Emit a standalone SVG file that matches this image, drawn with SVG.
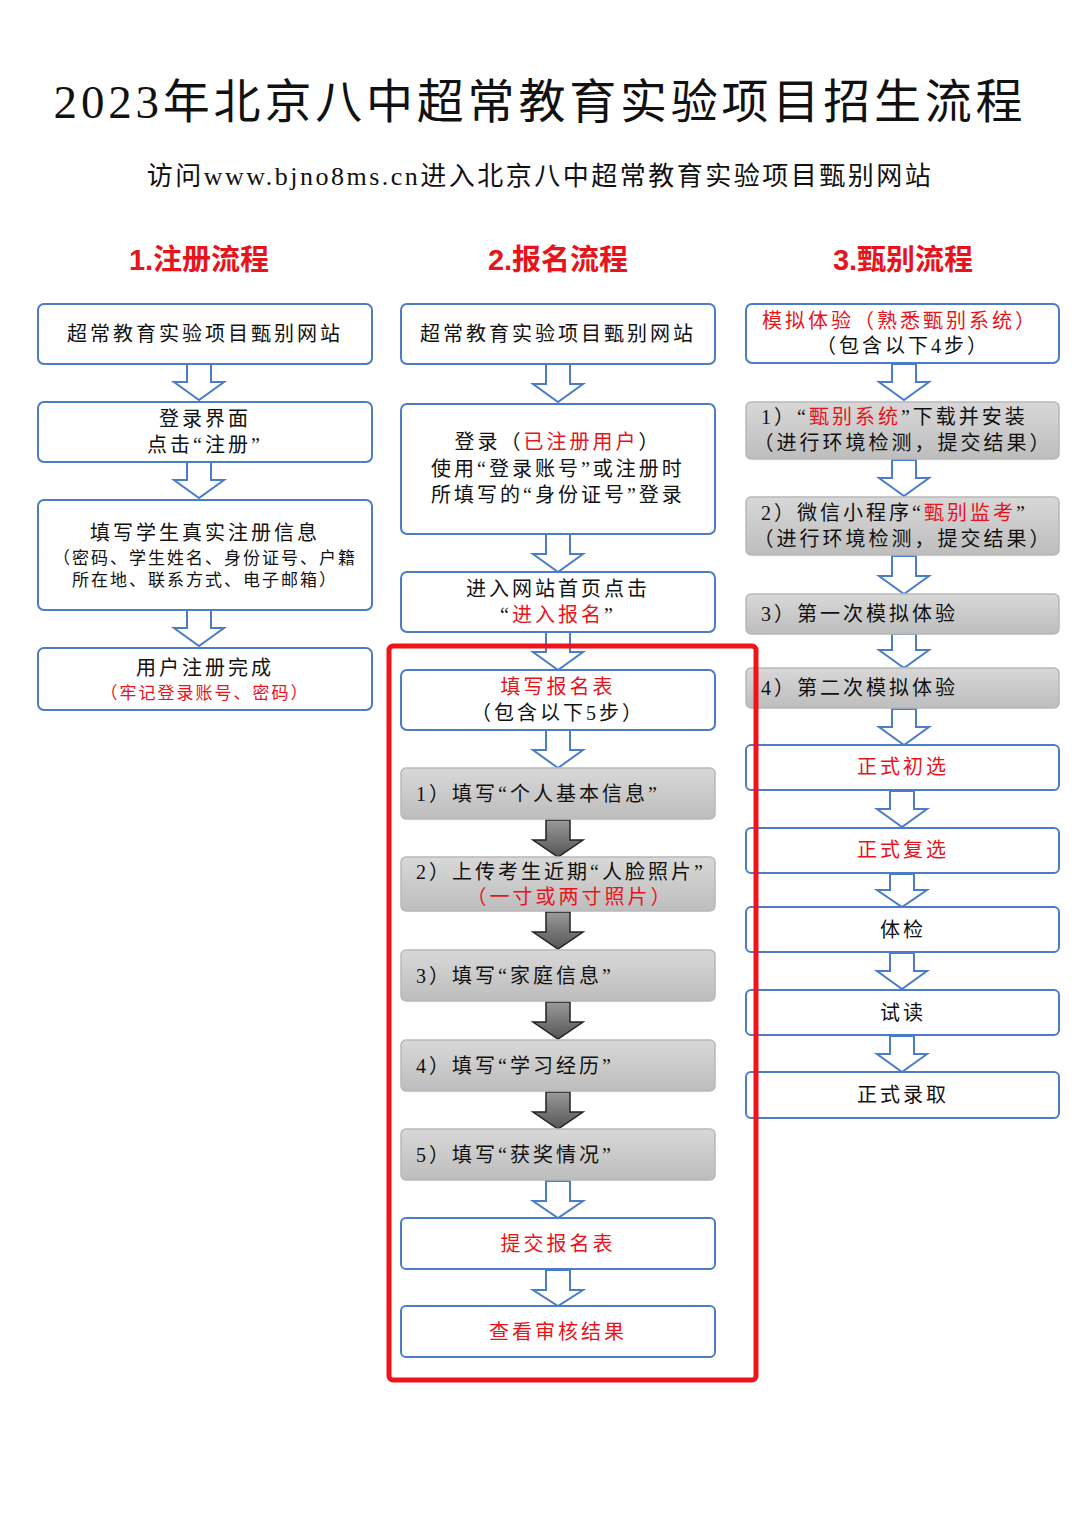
<svg xmlns="http://www.w3.org/2000/svg" width="1080" height="1527" viewBox="0 0 1080 1527">
<defs>
<style>
text{font-family:"Liberation Serif","Noto Sans CJK SC",serif;text-anchor:middle;fill:#111}
.r{fill:#e8141b}
.b{fill:#fff;stroke:#4a7cc8;stroke-width:2}
.g{fill:url(#gg);stroke:#b8b8b8;stroke-width:1.5}
.a{fill:#fff;stroke:#4a7cc8;stroke-width:2}
.d{fill:url(#dg);stroke:#222;stroke-width:1.5}
.t{font-size:20px;letter-spacing:3px}
.s{font-size:17px;letter-spacing:2px}
.l{text-anchor:start}
.h{font-family:"Liberation Sans","Noto Sans CJK SC",sans-serif;font-weight:bold;font-size:29px;fill:#e8141b}
</style>
<linearGradient id="gg" x1="0" y1="0" x2="0" y2="1"><stop offset="0" stop-color="#d8d8d8"/><stop offset="1" stop-color="#bdbdbd"/></linearGradient>
<linearGradient id="dg" x1="0" y1="0" x2="0" y2="1"><stop offset="0" stop-color="#9a9a9a"/><stop offset="1" stop-color="#555"/></linearGradient>
</defs>
<rect width="1080" height="1527" fill="#fff"/>
<text x="540" y="118" font-size="47" letter-spacing="3.8">2023年北京八中超常教育实验项目招生流程</text>
<text x="540" y="185" font-size="26" letter-spacing="2.5">访问www.bjno8ms.cn进入北京八中超常教育实验项目甄别网站</text>
<text class="h" x="199" y="270">1.注册流程</text>
<text class="h" x="558" y="270">2.报名流程</text>
<text class="h" x="903" y="270">3.甄别流程</text>
<g id="connectors">
<path class="a" d="M187,364h24v18h13l-25,18l-25,-18h13z"/>
<path class="a" d="M187,462h24v18h13l-25,18l-25,-18h13z"/>
<path class="a" d="M187,610h24v18h13l-25,18l-25,-18h13z"/>
<path class="a" d="M546,364h24v20h13l-25,18l-25,-18h13z"/>
<path class="a" d="M546,534h24v20h13l-25,18l-25,-18h13z"/>
<path class="a" d="M546,632h24v20h13l-25,18l-25,-18h13z"/>
<path class="a" d="M546,730h24v20h13l-25,18l-25,-18h13z"/>
<path class="d" d="M546,820h24v20h13l-25,17l-25,-17h13z"/>
<path class="d" d="M546,912h24v20h13l-25,17l-25,-17h13z"/>
<path class="d" d="M546,1002h24v20h13l-25,17l-25,-17h13z"/>
<path class="d" d="M546,1092h24v20h13l-25,17l-25,-17h13z"/>
<path class="a" d="M546,1181h24v20h13l-25,17l-25,-17h13z"/>
<path class="a" d="M546,1270h24v20h13l-25,16l-25,-16h13z"/>
<path class="a" d="M892,364h24v18h13l-25,18l-25,-18h13z"/>
<path class="a" d="M892,460h24v18h13l-25,18l-25,-18h13z"/>
<path class="a" d="M892,556h24v20h13l-25,18l-25,-18h13z"/>
<path class="a" d="M892,634h24v16h13l-25,18l-25,-18h13z"/>
<path class="a" d="M892,709h24v18h13l-25,18l-25,-18h13z"/>
<path class="a" d="M890,791h24v18h13l-25,18l-25,-18h13z"/>
<path class="a" d="M890,874h24v16h13l-25,17l-25,-17h13z"/>
<path class="a" d="M890,953h24v18h13l-25,18l-25,-18h13z"/>
<path class="a" d="M890,1036h24v18h13l-25,18l-25,-18h13z"/>
</g>
<g id="c1n1"><rect class="b" x="38" y="304" width="334" height="60" rx="6"/><text class="t" x="205" y="341">超常教育实验项目甄别网站</text></g>
<g id="c1n2"><rect class="b" x="38" y="402" width="334" height="60" rx="6"/><text class="t" x="205" y="426">登录界面</text><text class="t" x="205" y="452">点击“注册”</text></g>
<g id="c1n3"><rect class="b" x="38" y="500" width="334" height="110" rx="6"/><text class="t" x="205" y="540">填写学生真实注册信息</text><text class="s" x="205" y="564">（密码、学生姓名、身份证号、户籍</text><text class="s" x="205" y="586">所在地、联系方式、电子邮箱）</text></g>
<g id="c1n4"><rect class="b" x="38" y="648" width="334" height="62" rx="6"/><text class="t" x="205" y="675">用户注册完成</text><text class="s r" x="205" y="699">（牢记登录账号、密码）</text></g>
<g id="c2n1"><rect class="b" x="401" y="304" width="314" height="60" rx="6"/><text class="t" x="558" y="341">超常教育实验项目甄别网站</text></g>
<g id="c2n2"><rect class="b" x="401" y="404" width="314" height="130" rx="6"/><text class="t" x="558" y="449">登录（<tspan class="r">已注册用户</tspan>）</text><text class="t" x="558" y="476">使用“登录账号”或注册时</text><text class="t" x="558" y="502">所填写的“身份证号”登录</text></g>
<g id="c2n3"><rect class="b" x="401" y="572" width="314" height="60" rx="6"/><text class="t" x="558" y="596">进入网站首页点击</text><text class="t" x="558" y="622">“<tspan class="r">进入报名</tspan>”</text></g>
<g id="c2n4"><rect class="b" x="401" y="670" width="314" height="60" rx="6"/><text class="t r" x="558" y="694">填写报名表</text><text class="t" x="558" y="720">（包含以下5步）</text></g>
<g id="c2n5"><rect class="g" x="401" y="768" width="314" height="51" rx="5"/><text class="t l" x="416" y="801">1）填写“个人基本信息”</text></g>
<g id="c2n6"><rect class="g" x="401" y="857" width="314" height="54" rx="5"/><text class="t l" x="416" y="879">2）上传考生近期“人脸照片”</text><text class="t r" x="570" y="904">（一寸或两寸照片）</text></g>
<g id="c2n7"><rect class="g" x="401" y="950" width="314" height="51" rx="5"/><text class="t l" x="416" y="983">3）填写“家庭信息”</text></g>
<g id="c2n8"><rect class="g" x="401" y="1040" width="314" height="51" rx="5"/><text class="t l" x="416" y="1073">4）填写“学习经历”</text></g>
<g id="c2n9"><rect class="g" x="401" y="1129" width="314" height="51" rx="5"/><text class="t l" x="416" y="1162">5）填写“获奖情况”</text></g>
<g id="c2n10"><rect class="b" x="401" y="1218" width="314" height="51" rx="5"/><text class="t r" x="558" y="1251">提交报名表</text></g>
<g id="c2n11"><rect class="b" x="401" y="1306" width="314" height="51" rx="5"/><text class="t r" x="558" y="1339">查看审核结果</text></g>
<g id="c3n1"><rect class="b" x="746" y="304" width="313" height="59" rx="6"/><text class="t" x="900" y="328"><tspan class="r">模拟体验（熟悉甄别系统）</tspan></text><text class="t" x="903" y="353">（包含以下4步）</text></g>
<g id="c3n2"><rect class="g" x="746" y="402" width="313" height="57" rx="5"/><text class="t l" x="761" y="424">1）“<tspan class="r">甄别系统</tspan>”下载并安装</text><text class="t" x="903" y="450">（进行环境检测，提交结果）</text></g>
<g id="c3n3"><rect class="g" x="746" y="497" width="313" height="58" rx="5"/><text class="t l" x="761" y="520">2）微信小程序“<tspan class="r">甄别监考</tspan>”</text><text class="t" x="903" y="546">（进行环境检测，提交结果）</text></g>
<g id="c3n4"><rect class="g" x="746" y="594" width="313" height="40" rx="5"/><text class="t l" x="761" y="621">3）第一次模拟体验</text></g>
<g id="c3n5"><rect class="g" x="746" y="668" width="313" height="40" rx="5"/><text class="t l" x="761" y="695">4）第二次模拟体验</text></g>
<g id="c3n6"><rect class="b" x="746" y="745" width="313" height="45" rx="5"/><text class="t r" x="903" y="774">正式初选</text></g>
<g id="c3n7"><rect class="b" x="746" y="828" width="313" height="45" rx="5"/><text class="t r" x="903" y="857">正式复选</text></g>
<g id="c3n8"><rect class="b" x="746" y="907" width="313" height="45" rx="5"/><text class="t" x="903" y="937">体检</text></g>
<g id="c3n9"><rect class="b" x="746" y="990" width="313" height="45" rx="5"/><text class="t" x="903" y="1020">试读</text></g>
<g id="c3n10"><rect class="b" x="746" y="1072" width="313" height="46" rx="5"/><text class="t" x="903" y="1102">正式录取</text></g>
<rect x="389" y="646" width="367" height="734" rx="4" fill="none" stroke="#f0141a" stroke-width="5"/>
</svg>
